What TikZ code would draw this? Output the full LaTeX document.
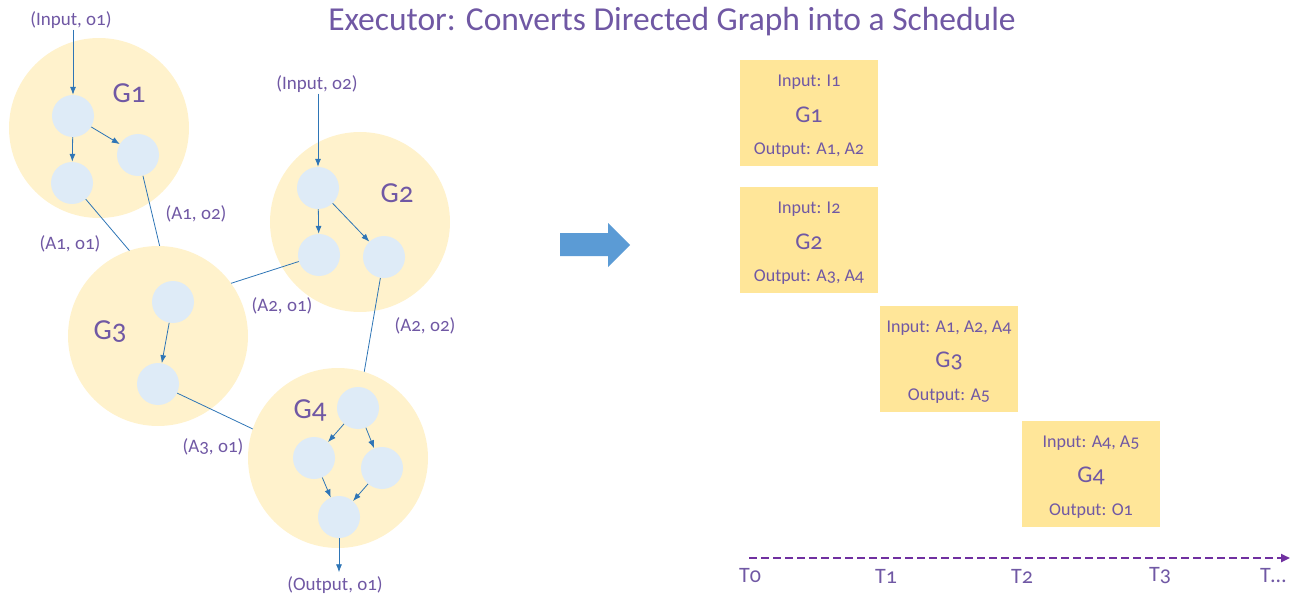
\documentclass[tikz,border=0pt]{standalone}
\usepackage{fontspec}
\setmainfont{Carlito}[Numbers=OldStyle]
\usepackage{tikz}
\usetikzlibrary{arrows.meta,positioning}

\definecolor{txtpurple}{RGB}{112,88,164}
\definecolor{bigfill}{RGB}{255,242,204}
\definecolor{smallfill}{RGB}{222,235,247}
\definecolor{linkblue}{RGB}{46,117,182}
\definecolor{boxfill}{RGB}{255,230,153}
\definecolor{arrowblue}{RGB}{91,155,213}
\definecolor{timepurple}{RGB}{112,48,160}

\pgfdeclarelayer{layA}
\pgfdeclarelayer{layB}
\pgfdeclarelayer{layC}
\pgfdeclarelayer{layD}
\pgfdeclarelayer{layE}
\pgfsetlayers{layA,layB,layC,layD,layE,main}

\tikzset{
  bigc/.style={circle, fill=bigfill, minimum size=180pt, inner sep=0pt},
  smallc/.style={circle, fill=smallfill, minimum size=42pt, inner sep=0pt},
  lbl/.style={text=txtpurple, font=\fontsize{19}{22}\selectfont, inner sep=1pt},
  boxtxt/.style={text=txtpurple, font=\fontsize{18}{21}\selectfont, inner sep=1pt},
  glbl/.style={text=txtpurple, font=\fontsize{29}{33}\selectfont, inner sep=0pt},
  boxg/.style={text=txtpurple, font=\fontsize{24}{27}\selectfont, inner sep=0pt},
  flow/.style={draw=linkblue, line width=0.8pt, -{Latex[length=8pt,width=6pt]}},
  link/.style={draw=linkblue, line width=0.8pt},
  sched/.style={rectangle, fill=boxfill, minimum width=138pt, minimum height=106pt, inner sep=0pt},
  tick/.style={text=txtpurple, font=\fontsize{22}{25}\selectfont, inner sep=0pt},
}

\begin{document}
\begin{tikzpicture}[x=1pt,y=-1pt]
             \useasboundingbox (0,0) rectangle (1294,599);

             \node[text=txtpurple, font=\fontsize{33.5}{38}\selectfont] (title) at (672,22) {Executor: Converts Directed Graph into a Schedule};

             % graph side
             \node[smallc] (g1a) at (73,116) {};
             \node[smallc] (g1b) at (138,155) {};
             \node[smallc] (g1c) at (72,183) {};
             \node[smallc] (g2a) at (318,188) {};
             \node[smallc] (g2b) at (319,255) {};
             \node[smallc] (g2c) at (384,257) {};
             \node[smallc] (g3a) at (173,302) {};
             \node[smallc] (g3b) at (158,384) {};
             \node[smallc] (g4a) at (358,408) {};
             \node[smallc] (g4b) at (314,458) {};
             \node[smallc] (g4c) at (382,468) {};
             \node[smallc] (g4d) at (339,517) {};

             \begin{pgfonlayer}{layA}
             \node[bigc] (G1) at (99,128) {};
             \node[bigc] (G2) at (360,222) {};
             \end{pgfonlayer}
             \begin{pgfonlayer}{layB}
             \draw[link] (g1c) -- (g3a);
             \draw[link] (g1b) -- (g3a);
             \draw[link] (g2b) -- (g3a);
             \end{pgfonlayer}
             \begin{pgfonlayer}{layC}
             \node[bigc] (G3) at (158,336) {};
             \end{pgfonlayer}
             \begin{pgfonlayer}{layD}
             \draw[link] (g3b) -- (g4b);
             \draw[link] (g2c) -- (g4a);
             \end{pgfonlayer}
             \begin{pgfonlayer}{layE}
             \node[bigc] (G4) at (338,458) {};
             \end{pgfonlayer}

             \node[glbl] (G1lbl) at (129,93) {G1};
             \node[glbl] (G2lbl) at (397,193) {G2};
             \node[glbl] (G3lbl) at (110,332) {G3};
             \node[glbl] (G4lbl) at (310,410) {G4};

             \node[lbl] (in1) at (71,20) {(Input, o1)};
             \node[lbl] (in2) at (317,84) {(Input, o2)};
             \node[lbl] (out1) at (335,585) {(Output, o1)};
             \node[lbl] (e13a) at (196,214) {(A1, o2)};
             \node[lbl] (e13b) at (70,244) {(A1, o1)};
             \node[lbl] (e23) at (282,306) {(A2, o1)};
             \node[lbl] (e24) at (425,326) {(A2, o2)};
             \node[lbl] (e34) at (213,447) {(A3, o1)};

             \draw[flow] (g1a |- in1.south) -- (g1a);
             \draw[flow] (g2a |- in2.south) -- (g2a);
             \draw[flow] (g1a) -- (g1b);
             \draw[flow] (g1a) -- (g1c);
             \draw[flow] (g2a) -- (g2b);
             \draw[flow] (g2a) -- (g2c);
             \draw[flow] (g3a) -- (g3b);
             \draw[flow] (g4a) -- (g4b);
             \draw[flow] (g4a) -- (g4c);
             \draw[flow] (g4b) -- (g4d);
             \draw[flow] (g4c) -- (g4d);
             \draw[flow, shorten >=3pt] (g4d) -- (g4d |- out1.north);

             % big arrow
             \fill[arrowblue] (560,233) -- (608,233) -- (608,223) -- (630,245) -- (608,267) -- (608,256) -- (560,256) -- cycle;

             % schedule side
             \foreach \n/\x/\y/\inp/\g/\outp in {1/809/113/{Input: I1}/G1/{Output: A1, A2},
                                                2/809/240/{Input: I2}/G2/{Output: A3, A4},
                                                3/949/359/{Input: A1, A2, A4}/G3/{Output: A5},
                                                4/1091/474/{Input: A4, A5}/G4/{Output: O1}} {
               \node[sched] (box\n) at (\x,\y) {};
               \node[boxtxt] (boxin\n) at ([yshift=31pt]box\n.center) {\inp};
               \node[boxg] (boxg\n) at ([yshift=-2pt]box\n.center) {\g};
               \node[boxtxt] (boxout\n) at ([yshift=-37pt]box\n.center) {\outp};
             }

             \coordinate (tstart) at (749,558);
             \coordinate (tend) at (1290,558);
             \draw[timepurple, line width=2.5pt, dash pattern=on 8pt off 4pt, -{Triangle[length=9pt,width=8pt]}] (tstart) -- (tend);

             \node[tick] (t0) at (750,576) {T0};
             \node[tick] (t1) at (886,576) {T1};
             \node[tick] (t2) at (1022,576) {T2};
             \node[tick] (t3) at (1160,576) {T3};
             \node[tick] (tn) at (1273,576) {T…};
             \end{tikzpicture}
\end{document}
